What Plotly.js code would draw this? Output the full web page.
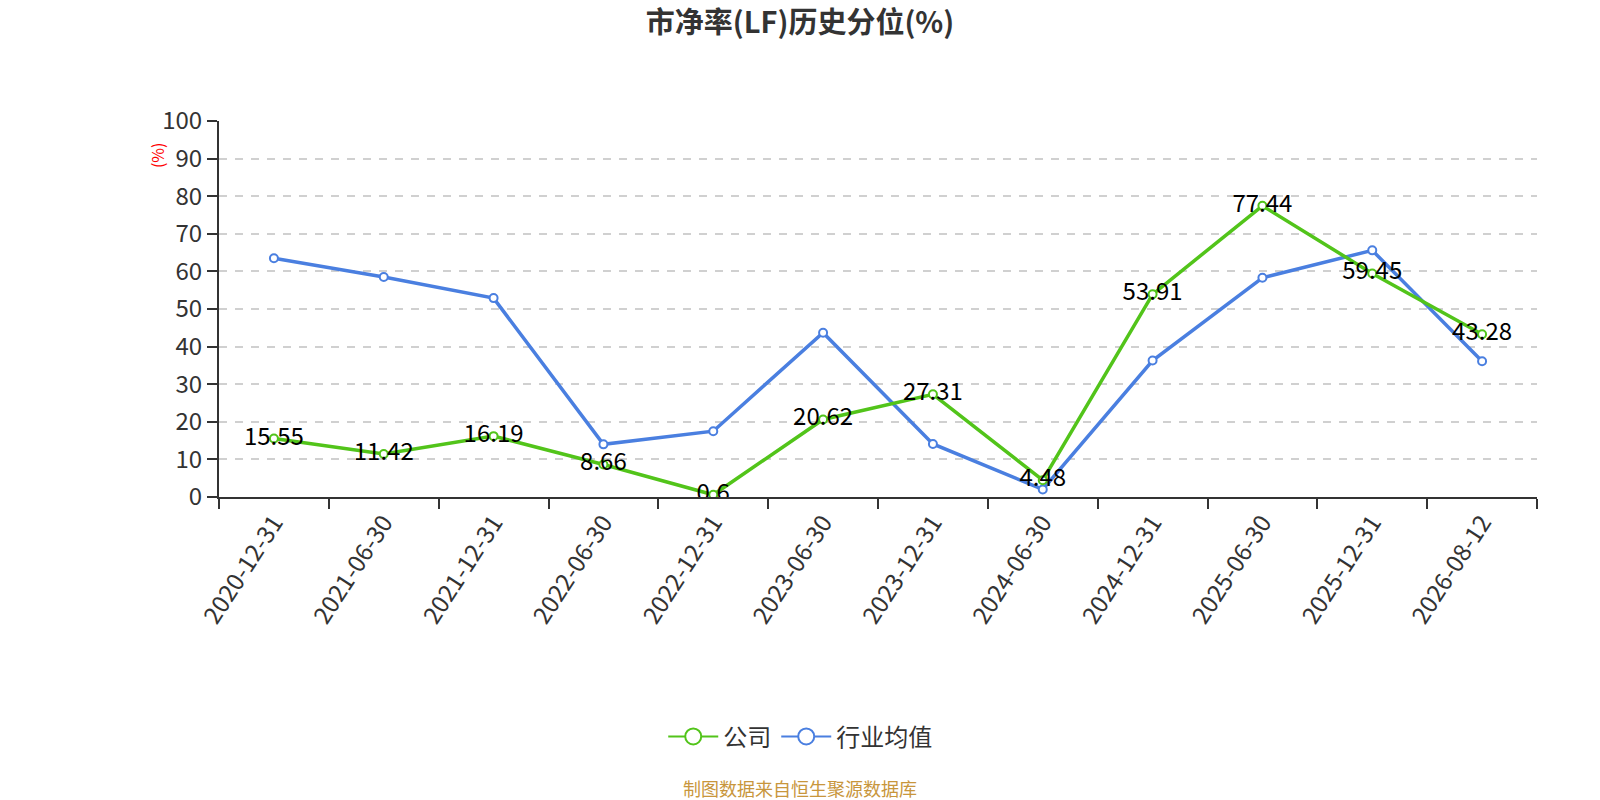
<!DOCTYPE html>
<html><head><meta charset="utf-8">
<script src="https://cdn.plot.ly/plotly-3.0.1.min.js"></script>
<style>html,body{margin:0;padding:0;background:#fff}#chart{width:1600px;height:800px}</style>
</head><body><div id="chart"></div>
<script>
const categories = ["2020-12-31","2021-06-30","2021-12-31","2022-06-30","2022-12-31","2023-06-30","2023-12-31","2024-06-30","2024-12-31","2025-06-30","2025-12-31","2026-08-12"];
const companyValues = [15.55,11.42,16.19,8.66,0.6,20.62,27.31,4.48,53.91,77.44,59.45,43.28];
const industryValues = [63.5,58.5,52.9,14.0,17.5,43.7,14.1,2.0,36.3,58.3,65.6,36.1];
const seriesNames = ["公司","行业均值"];
const seriesColors = ["#52c41a","#4a7fe0"];
const FONT = "'Noto Sans CJK SC','Noto Sans',sans-serif";

const data = [
  {x:categories,y:industryValues,name:seriesNames[1],type:"scatter",mode:"lines+markers",showlegend:false,
   line:{color:seriesColors[1],width:3.5},
   marker:{symbol:"circle",size:8,color:"#fff",line:{color:seriesColors[1],width:2}}},
  {x:categories,y:companyValues,name:seriesNames[0],type:"scatter",mode:"lines+markers+text",showlegend:false,
   text:companyValues.map(v=>String(v)),textposition:"middle center",
   textfont:{size:24,color:"#000",family:FONT},
   line:{color:seriesColors[0],width:3.5},
   marker:{symbol:"circle",size:8,color:"#fff",line:{color:seriesColors[0],width:2}}},
  // legend entries
  {x:[null],y:[null],name:seriesNames[0],type:"scatter",mode:"lines+markers",legendrank:1,
   line:{color:seriesColors[0],width:2},
   marker:{symbol:"circle",size:17,color:"#fff",line:{color:seriesColors[0],width:2}}},
  {x:[null],y:[null],name:seriesNames[1],type:"scatter",mode:"lines+markers",legendrank:2,
   line:{color:seriesColors[1],width:2},
   marker:{symbol:"circle",size:17,color:"#fff",line:{color:seriesColors[1],width:2}}}
];

const layout = {
  width:1600,height:800,
  paper_bgcolor:"#fff",plot_bgcolor:"#fff",
  margin:{l:219,r:63,t:121,b:303},
  font:{family:FONT,color:"#333"},
  title:{text:"<b>市净率(LF)历史分位(%)</b>",x:0.5,xanchor:"center",y:0.971,yanchor:"middle",
         font:{size:29,color:"#333",family:FONT}},
  showlegend:true,
  legend:{orientation:"h",x:0.441,xref:"paper",xanchor:"center",y:-0.638,yanchor:"middle",
          font:{size:24,color:"#333",family:FONT},itemwidth:50},
  xaxis:{type:"category",tickson:"boundaries",ticks:"outside",ticklen:10,tickwidth:2,tickcolor:"#333",
         showline:true,linecolor:"#333",linewidth:2,showgrid:false,
         tickangle:-57,tickfont:{size:24,color:"#333",family:FONT},range:[-0.5,11.5]},
  yaxis:{range:[0,100],dtick:10,ticks:"outside",ticklen:10,tickwidth:2,tickcolor:"#333",
         showline:true,linecolor:"#333",linewidth:2,
         showgrid:true,gridcolor:"#d0d0d0",griddash:"8px,8px",gridwidth:2,zeroline:false,
         tickfont:{size:24,color:"#333",family:FONT}},
  annotations:[
    {text:"(%)",xref:"paper",yref:"paper",x:-0.047,y:0.9096,showarrow:false,textangle:-90,
     font:{size:16,color:"#ff0000",family:FONT},xanchor:"center",yanchor:"middle"},
    {text:"制图数据来自恒生聚源数据库",xref:"paper",yref:"paper",x:0.441,y:-0.774,showarrow:false,
     font:{size:18,color:"#c8963c",family:FONT},xanchor:"center",yanchor:"middle"}
  ]
};
Plotly.newPlot("chart",data,layout,{displayModeBar:false,staticPlot:true});
</script></body></html>
